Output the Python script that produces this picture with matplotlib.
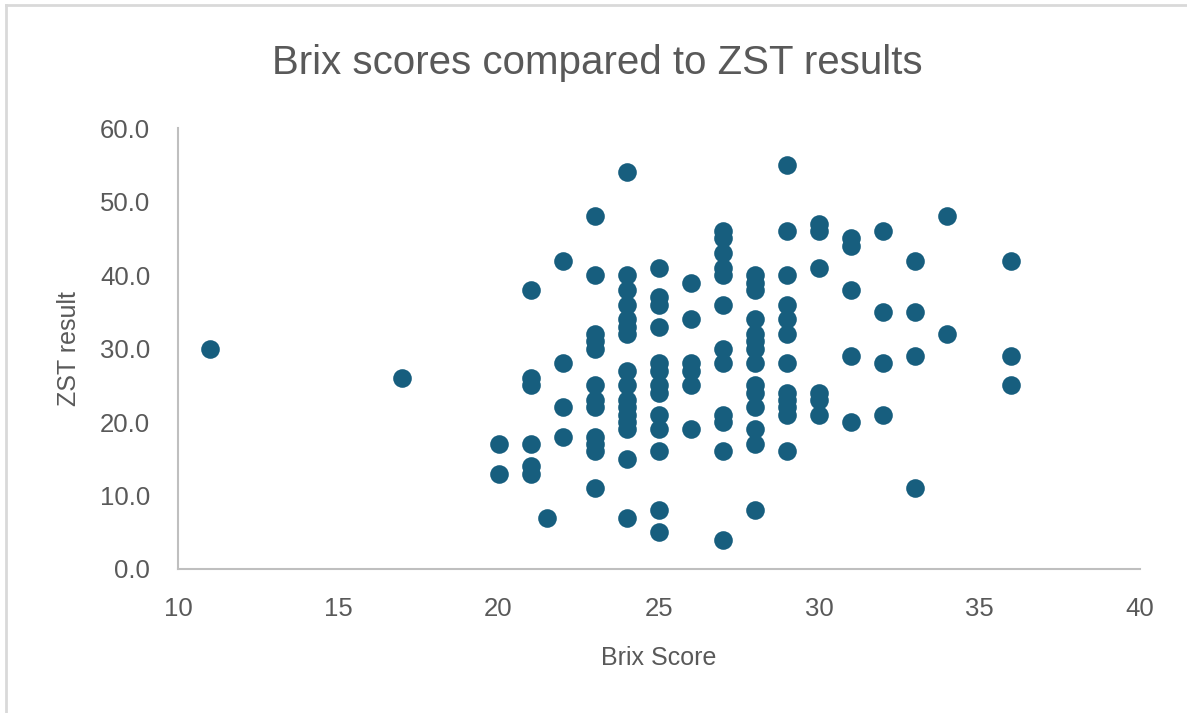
import numpy as np
import matplotlib.pyplot as plt
from matplotlib.lines import Line2D

# Brix score (x) and ZST result (y)
brix_11 = [30]
brix_17 = [26]
brix_20 = [17, 13]
brix_21 = [38, 26, 25, 17, 14, 13]
brix_21_5 = [7]
brix_22 = [42, 28, 22, 18]
brix_23 = [48, 40, 32, 31, 30, 25, 23, 22, 18, 17, 16, 11]
brix_24 = [54, 40, 38, 36, 34, 33, 32, 27, 25, 23, 22, 21, 20, 19, 15, 7]
brix_25 = [41, 37, 36, 33, 28, 27, 25, 24, 21, 19, 16, 8, 5]
brix_26 = [39, 34, 28, 27, 25, 19]
brix_27 = [46, 45, 43, 41, 40, 36, 30, 28, 21, 20, 16, 4]
brix_28 = [40, 39, 38, 34, 32, 31, 30, 28, 25, 24, 22, 19, 17, 8]
brix_29 = [55, 46, 40, 36, 34, 32, 28, 24, 23, 22, 21, 16]
brix_30 = [47, 46, 41, 24, 23, 21]
brix_31 = [45, 44, 38, 29, 20]
brix_32 = [46, 35, 28, 21]
brix_33 = [42, 35, 29, 11]
brix_34 = [48, 32]
brix_36 = [42, 29, 25]

columns = {11: brix_11, 17: brix_17, 20: brix_20, 21: brix_21, 21.5: brix_21_5,
           22: brix_22, 23: brix_23, 24: brix_24, 25: brix_25, 26: brix_26,
           27: brix_27, 28: brix_28, 29: brix_29, 30: brix_30, 31: brix_31,
           32: brix_32, 33: brix_33, 34: brix_34, 36: brix_36}

brix = []
zst = []
for b, vals in columns.items():
    brix += [b] * len(vals)
    zst += vals

text_col = '#595959'
plt.rcParams['font.family'] = ['Liberation Sans', 'DejaVu Sans']

fig = plt.figure(figsize=(11.87, 7.13), dpi=100)
ax = fig.add_axes([0.150, 0.202, 0.810, 0.618])

ax.scatter(brix, zst, s=180, color='#175E7E', linewidths=0, zorder=3)

ax.set_xlim(10, 40)
ax.set_ylim(0, 60)
ax.set_xticks(np.arange(10, 41, 5))
ax.set_yticks(np.arange(0, 61, 10))
ax.set_yticklabels([f"{v:.1f}" for v in np.arange(0, 61, 10)])
ax.tick_params(length=0, labelsize=18.5, labelcolor=text_col)
ax.tick_params(axis='x', pad=20)
ax.tick_params(axis='y', pad=20)

for side in ['top', 'right']:
    ax.spines[side].set_visible(False)
for side in ['left', 'bottom']:
    ax.spines[side].set_color('#bfbfbf')
    ax.spines[side].set_linewidth(1.5)

ax.set_xlabel('Brix Score', fontsize=18, color=text_col, labelpad=18)
ax.set_ylabel('ZST result', fontsize=18, color=text_col, labelpad=14)
fig.text(0.503, 0.912, 'Brix scores compared to ZST results', fontsize=29,
         color=text_col, ha='center', va='center')

# chart frame (top and left edges visible in the screenshot)
fig.add_artist(Line2D([0.005, 0.005], [0, 0.993], transform=fig.transFigure,
                      color='#d9d9d9', linewidth=2))
fig.add_artist(Line2D([0.005, 1], [0.993, 0.993], transform=fig.transFigure,
                      color='#d9d9d9', linewidth=2))

plt.savefig('out.png', dpi=100)
